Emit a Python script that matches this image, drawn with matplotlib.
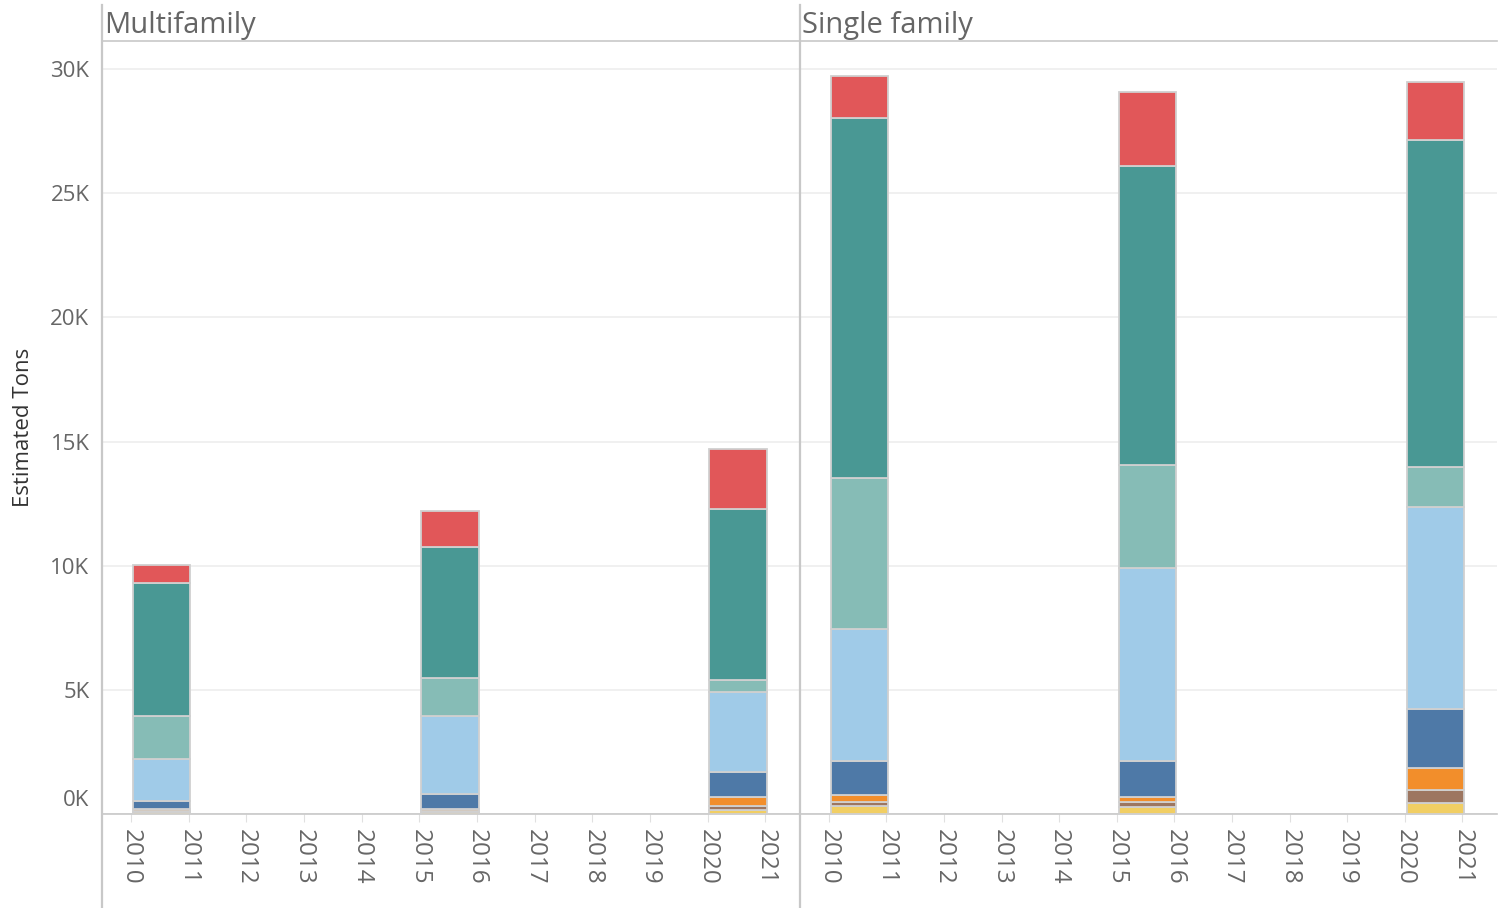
import numpy as np
import matplotlib
matplotlib.use('Agg')
import matplotlib.pyplot as plt
from matplotlib.lines import Line2D

# 数据（单位：吨），按年份 2010 / 2015 / 2020
years = [2010, 2015, 2020]
panels = ['Multifamily', 'Single family']
layer_names = ['yellow', 'brown', 'orange', 'dark blue', 'light blue', 'light teal', 'teal', 'red']
layer_colors = ['#f1ce63', '#9d7660', '#f28e2b', '#4e79a7', '#a0cbe8', '#86bcb6', '#499894', '#e15759']

multifamily = {
    'yellow':     [80, 80, 160],
    'brown':      [50, 40, 160],
    'orange':     [70, 80, 360],
    'dark blue':  [320, 600, 1010],
    'light blue': [1690, 3150, 3220],
    'light teal': [1740, 1530, 490],
    'teal':       [5350, 5270, 6880],
    'red':        [730, 1450, 2420],
}
single_family = {
    'yellow':     [320, 300, 440],
    'brown':      [160, 180, 530],
    'orange':     [290, 200, 880],
    'dark blue':  [1360, 1450, 2380],
    'light blue': [5320, 7780, 8130],
    'light teal': [6080, 4150, 1610],
    'teal':       [14500, 12040, 13170],
    'red':        [1690, 2980, 2340],
}

year_ticks = list(range(2010, 2022))
y_ticks = [0, 5000, 10000, 15000, 20000, 25000, 30000]
y_labels = ['0K', '5K', '10K', '15K', '20K', '25K', '30K']

W, H = 1499, 908
fig = plt.figure(figsize=(W / 100, H / 100), dpi=100)
plt.rcParams['font.family'] = ['Open Sans', 'DejaVu Sans']

tick_col = '#666666'
line_col = '#c8c8c8'

def px_axes(x0, x1, y_top, y_bot):
    return fig.add_axes([x0 / W, (H - y_bot) / H, (x1 - x0) / W, (y_bot - y_top) / H])

ax_list = [px_axes(102, 800, 41, 814), px_axes(800, 1497, 41, 814)]

for ax, data, title in zip(ax_list, [multifamily, single_family], panels):
    bottom = np.zeros(len(years))
    for name, col in zip(layer_names, layer_colors):
        vals = np.array(data[name], dtype=float)
        ax.bar(np.array(years) + 0.03, vals, width=1.0, bottom=bottom, align='edge', color=col,
               edgecolor='#d0d0d0', linewidth=1.3, zorder=3)
        bottom += vals
    ax.set_xlim(2009.5, 2021.6)
    ax.set_ylim(0, 31130)
    ax.set_yticks(y_ticks)
    ax.yaxis.grid(True, color='#eeeeee', linewidth=1.2, zorder=0)
    ax.set_xticks(year_ticks)
    ax.set_xticklabels([str(y) for y in year_ticks], rotation=270, fontsize=17.5, color=tick_col)
    ax.tick_params(axis='x', length=6, color='#e0e0e0', pad=5)
    ax.tick_params(axis='y', length=0)
    for s in ['top', 'right', 'left']:
        ax.spines[s].set_visible(False)
    ax.spines['bottom'].set_color(line_col)
    ax.spines['bottom'].set_linewidth(1.2)
    ax.annotate(title, xy=(0, 1), xycoords='axes fraction', xytext=(1.5, 6),
                textcoords='offset points', fontsize=21, color='#666666',
                va='baseline', ha='left')

ax_list[0].set_yticklabels([''] + y_labels[1:], fontsize=16, color=tick_col)
ax_list[0].tick_params(axis='y', pad=9)
ax_list[0].annotate(y_labels[0], xy=(0, 0), xycoords=('axes fraction', 'data'),
                    xytext=(-9, 10), textcoords='offset points', ha='right', va='center',
                    fontsize=16, color=tick_col)
ax_list[1].set_yticklabels([])
ax_list[0].set_ylabel('Estimated Tons', fontsize=16, color='#333333', labelpad=12)

# 面板分隔线与标题栏线
fig.add_artist(Line2D([102 / W, 1497 / W], [1 - 41 / H, 1 - 41 / H], color=line_col, lw=1.2))
for xp in [102, 800]:
    fig.add_artist(Line2D([xp / W, xp / W], [0, 1 - 5 / H], color=line_col, lw=1.6))

fig.savefig('out.png', dpi=100)
